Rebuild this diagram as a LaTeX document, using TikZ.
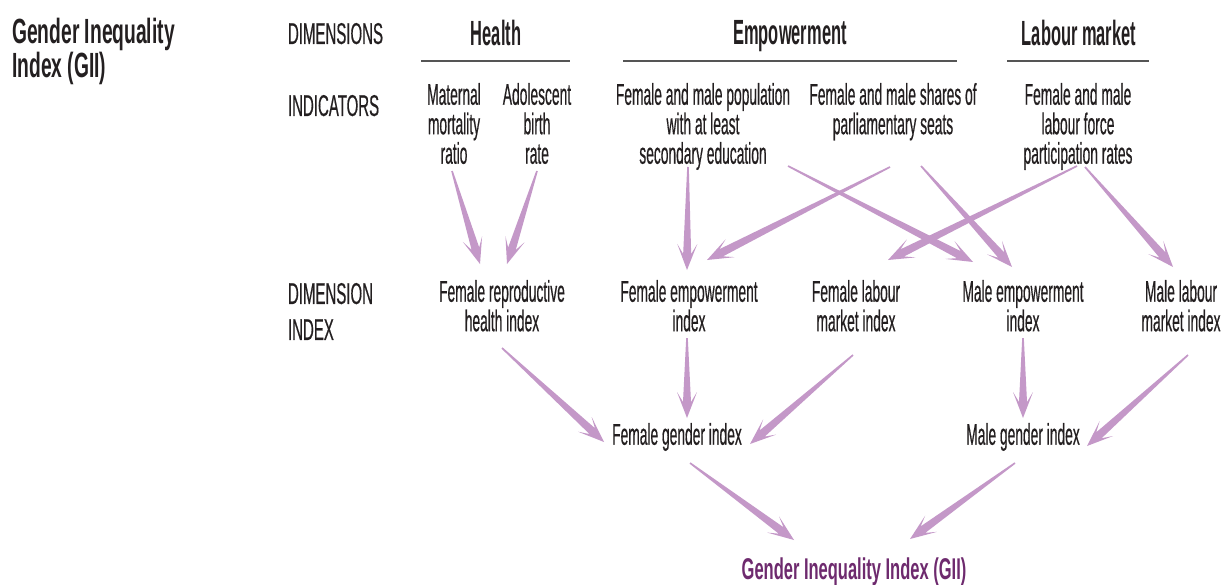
\documentclass[tikz,border=0pt]{standalone}
\usepackage{fontspec}
\setmainfont{Liberation Sans}[FakeStretch=0.46, FakeBold=0.4]
\newfontfamily\rowfont{Liberation Sans}[FakeStretch=0.5, FakeBold=0.4]
\newfontfamily\hdfont{Liberation Sans}[FakeStretch=0.47]
\newfontfamily\ttlfont{Liberation Sans}[FakeStretch=0.55]
\usetikzlibrary{calc}
\definecolor{arrowc}{HTML}{C498C8}
\definecolor{txtc}{HTML}{231F20}
\definecolor{giic}{HTML}{6E2A6E}
\definecolor{rulec}{HTML}{555555}
\begin{document}
\begin{tikzpicture}[x=1pt,y=-1pt,
  lbl/.style={inner sep=0pt, outer sep=0pt, text=txtc, align=center,
    font=\fontsize{30}{29.5}\selectfont, anchor=north},
  rowlbl/.style={inner sep=0pt, outer sep=0pt, text=txtc, align=left,
    font=\rowfont\fontsize{30}{36}\selectfont, anchor=north west},
  hdr/.style={inner sep=0pt, outer sep=0pt, text=txtc, anchor=north,
    font=\hdfont\bfseries\fontsize{35}{35}\selectfont},
  hrule/.style={draw=rulec, line width=2pt},
  taper/.style={fill=arrowc, draw=none, to path={
    ($(\tikztotarget)!16pt!(\tikztostart)$) coordinate (tpN)
    ($(\tikztotarget)!26pt!(\tikztostart)$) coordinate (tpB)
    ($(\tikztostart)!0.8pt!90:(\tikztotarget)$)
    -- ($(tpN)!4pt!90:(\tikztotarget)$)
    -- ($(tpB)!10pt!90:(\tikztotarget)$)
    -- (\tikztotarget)
    -- ($(tpB)!10pt!-90:(\tikztotarget)$)
    -- ($(tpN)!4pt!-90:(\tikztotarget)$)
    -- ($(\tikztostart)!0.8pt!-90:(\tikztotarget)$)
    -- cycle}}
]
\fill[white] (0,0) rectangle (1225,585);
\useasboundingbox (0,0) rectangle (1225,585);

% title
\node[inner sep=0pt, anchor=north west, align=left, text=txtc,
  font=\ttlfont\bfseries\fontsize{35}{34}\selectfont] (title) at (12,18) {Gender Inequality\\Index (GII)};

% row labels
\node[rowlbl] (dims) at (288,23) {DIMENSIONS};
\node[rowlbl] (inds) at (288,95) {INDICATORS};
\node[rowlbl] (dimi) at (288,283) {DIMENSION\\INDEX};

% headers
\node[hdr] (health) at (496,20) {Health};
\node[hdr] (empow) at (790,20) {Empowerment};
\node[hdr] (labour) at (1079,20) {Labour market};
\draw[hrule] (421,61) -- (570,61);
\draw[hrule] (623,61) -- (957,61);
\draw[hrule] (1007,61) -- (1149,61);

% indicators
\node[lbl] (mmr) at (454,83) {Maternal\\mortality\\ratio};
\node[lbl] (abr) at (537,83) {Adolescent\\birth\\rate};
\node[lbl] (edu) at (703,83) {Female and male population\\with at least\\secondary education};
\node[lbl] (parl) at (893,83) {Female and male shares of\\parliamentary seats};
\node[lbl] (lab) at (1078,83) {Female and male\\labour force\\participation rates};

% dimension indices
\node[lbl] (frh) at (502,280) {Female reproductive\\health index};
\node[lbl] (fem) at (689,280) {Female empowerment\\index};
\node[lbl] (flm) at (856,280) {Female labour\\market index};
\node[lbl] (mem) at (1023,280) {Male empowerment\\index};
\node[lbl] (mlm) at (1181,280) {Male labour\\market index};

% gender indices
\node[lbl] (fgi) at (677,423) {Female gender index};
\node[lbl] (mgi) at (1023,423) {Male gender index};

\node[inner sep=0pt, anchor=north, text=giic,
  font=\ttlfont\bfseries\fontsize{30}{30}\selectfont] (gii) at (854,558) {Gender Inequality Index (GII)};

% arrows: indicators -> dimension indices
\path[taper] ($(mmr.north)+(-2,88)$) to ($(frh.north)+(-22,-16)$);
\path[taper] ($(abr.north)+(0,88)$) to ($(frh.north)+(5,-16)$);
\path[taper] ($(edu.north)+(-15,84)$) to ($(fem.north)+(-2,-10)$);
\path[taper] ($(parl.north)+(-3,84)$) to ($(fem.north)+(18,-20)$);
\path[taper] ($(edu.north)+(85,83)$) to ($(mem.north)+(-50,-18)$);
\path[taper] ($(parl.north)+(28,83)$) to ($(mem.north)+(-11,-13)$);
\path[taper] ($(lab.north)+(-1,83)$) to ($(flm.north)+(32,-20)$);
\path[taper] ($(lab.north)+(7,84)$) to ($(mlm.north)+(-8,-13)$);

% dimension indices -> gender indices
\path[taper] ($(frh.north)+(0,68)$) to ($(fgi.north)+(-73,19)$);
\path[taper] ($(fem.north)+(-2,58)$) to ($(fgi.north)+(10,-5)$);
\path[taper] ($(flm.north)+(-3,75)$) to ($(fgi.north)+(73,21)$);
\path[taper] ($(mem.north)+(0,58)$) to ($(mgi.north)+(0,-5)$);
\path[taper] ($(mlm.north)+(7,75)$) to ($(mgi.north)+(64,23)$);

% gender indices -> GII
\path[taper] ($(fgi.north)+(13,40)$) to ($(gii.north)+(-60,-18)$);
\path[taper] ($(mgi.north)+(-8,40)$) to ($(gii.north)+(56,-19)$);
\end{tikzpicture}
\end{document}
